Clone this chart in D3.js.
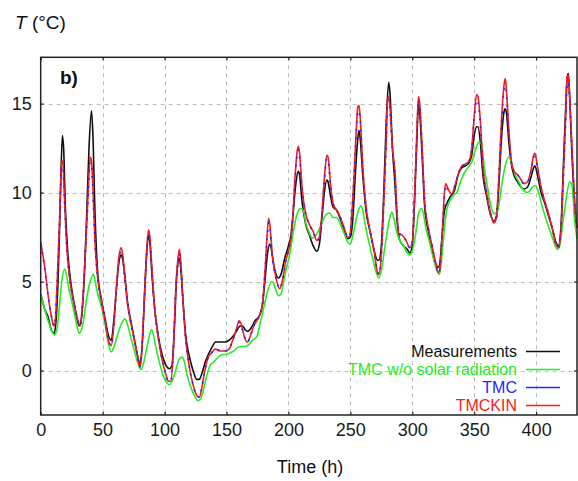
<!DOCTYPE html>
<html><head><meta charset="utf-8">
<script src="https://cdn.jsdelivr.net/npm/d3@7"></script>
<style>
html,body{margin:0;padding:0;background:#fff;}
svg text{font-family:"Liberation Sans",Arial,sans-serif;}
</style></head>
<body>
<svg id="chart" width="578" height="481"></svg>
<script>
// ---- data (time in h, temperature in °C) ----
const xTicks = [0, 50, 100, 150, 200, 250, 300, 350, 400];
const yTicks = [0, 5, 10, 15];
const seriesNames = ["Measurements", "TMC w/o solar radiation", "TMC", "TMCKIN"];

const measurements = [[0,4.3],[3,3.5],[6,3.0],[9,2.2],[11,2.1],[12,2.5],[14,5.0],[16,10.0],[17.5,13.2],[18.5,12.5],[20,9.0],[22,6.5],[25,4.6],[28,3.4],[31,2.5],[33,3.0],[35,5.0],[37,8.5],[39,12.5],[41,14.6],[42,13.5],[44,8.5],[46,5.5],[49,4.0],[52,2.9],[55,1.9],[57,1.7],[59,2.8],[61,4.5],[63,6.0],[65,6.5],[66,6.3],[68,5.3],[70,3.9],[73,2.7],[76,1.6],[79,0.6],[80,0.35],[82,1.5],[84,4.5],[86,7.0],[87,7.6],[88,7.3],[90,5.2],[92,3.5],[95,1.9],[98,0.9],[101,0.3],[104,0.1],[106,0.3],[108,2.5],[110,5.5],[112,6.3],[113,5.8],[115,3.8],[117,2.0],[120,0.8],[123,0.0],[126,-0.5],[128,-0.5],[130,-0.2],[133,0.5],[136,1.0],[139,1.4],[141,1.6],[145,1.6],[149,1.6],[152,1.7],[155,1.9],[158,2.2],[161,2.5],[163,2.5],[165,2.3],[167,2.2],[170,2.4],[173,2.8],[176,3.0],[179,3.7],[181,5.0],[183,6.5],[185,7.1],[186,6.9],[188,6.0],[190,5.4],[192,5.2],[194,5.4],[197,6.3],[200,7.0],[202,7.6],[204,9.0],[206,10.5],[208,11.2],[209,11.0],[211,9.5],[214,8.2],[217,7.6],[220,7.0],[223,6.7],[225,7.1],[227,8.5],[229,10.0],[231,10.7],[232,10.6],[234,9.8],[236,9.2],[239,9.0],[242,8.5],[245,7.9],[248,7.4],[250,7.5],[252,8.5],[254,11.0],[256,13.0],[257,13.5],[258,13.0],[260,11.0],[263,8.8],[266,7.8],[269,6.8],[272,6.2],[273,6.2],[275,7.0],[277,10.0],[279,14.0],[281,16.2],[282,15.6],[284,12.5],[286,10.5],[288,8.2],[290,7.3],[293,7.0],[296,6.8],[298,6.6],[300,7.0],[302,9.8],[304,13.5],[305,15.0],[306,14.5],[308,12.0],[310,9.2],[313,7.8],[316,6.8],[319,6.0],[321,5.8],[322,5.9],[324,7.5],[326,9.0],[328,9.4],[331,9.8],[334,10.1],[337,11.0],[340,11.4],[343,11.5],[346,11.7],[348,12.1],[350,13.2],[352,13.7],[353,13.7],[355,12.8],[357,11.0],[360,9.8],[363,8.8],[366,8.4],[368,8.7],[370,10.5],[372,13.0],[374,14.5],[375,14.7],[376,14.5],[378,12.8],[380,11.6],[382,11.0],[385,10.6],[388,10.3],[390,10.2],[393,10.3],[396,10.9],[398,11.4],[399,11.5],[401,11.0],[404,10.0],[407,9.4],[410,8.7],[413,8.0],[416,7.2],[418,7.0],[420,8.0],[422,11.5],[424,15.0],[425,16.4],[426,16.7],[427,15.5],[429,12.0],[431,9.5],[433,8.0]];

const tmcNoSolar = [[0,4.3],[3,3.5],[6,2.8],[9,2.2],[11,2.0],[13,2.3],[15,3.5],[17,5.0],[19.5,5.7],[21,5.3],[23,4.5],[26,3.6],[29,2.6],[31,2.1],[33,2.3],[35,3.0],[37,4.0],[40,5.0],[42.5,5.4],[44,5.0],[46,4.3],[49,3.6],[52,2.6],[55,1.4],[57,1.05],[59,1.3],[62,2.0],[65,2.6],[68,2.9],[70,2.6],[73,1.8],[76,1.0],[79,0.3],[81,0.05],[83,0.4],[86,1.4],[89.5,2.3],[91,2.0],[93,1.3],[96,0.4],[99,-0.3],[102,-0.7],[104,-0.8],[106,-0.6],[109,0.0],[111.5,0.6],[114,0.75],[116,0.5],[118,-0.2],[121,-0.9],[124,-1.4],[127,-1.7],[129,-1.6],[131,-1.2],[134,-0.3],[137,0.3],[140,0.5],[144,0.8],[147,0.9],[150,0.9],[153,1.0],[156,1.1],[159,1.3],[162,1.35],[165,1.35],[168,1.45],[171,1.7],[174.5,1.9],[177,2.6],[180,3.5],[183,4.4],[186.5,5.0],[188,4.9],[190,4.5],[192,4.2],[194,4.3],[197,5.3],[200,6.2],[202,6.9],[204,7.8],[207,8.8],[210,9.1],[212,9.0],[214,8.3],[217,7.7],[219,7.45],[221,7.5],[224,7.8],[227,8.3],[231,8.8],[233.5,8.85],[236,8.6],[239,8.6],[242,8.2],[245,7.7],[248,7.2],[250,7.1],[252,7.6],[255,8.6],[258.5,9.25],[260,9.0],[262,8.2],[265,7.2],[268,6.3],[271,5.5],[273,5.2],[275,5.6],[278,7.0],[281,8.3],[283.5,8.9],[285,8.6],[287,7.9],[290,7.3],[293,7.0],[296,6.6],[298,6.5],[300,6.7],[303,7.8],[305,8.8],[307.5,9.1],[309,8.8],[311,8.0],[314,7.2],[317,6.3],[320,5.6],[322,5.4],[324,6.5],[326,8.0],[328,9.1],[331,9.6],[334,9.9],[336,10.0],[339,10.6],[342,11.1],[345,11.4],[348,11.7],[351,12.4],[354,12.85],[356,12.7],[358,11.5],[361,10.2],[363,9.4],[366,8.8],[369,9.0],[372,10.3],[375,11.5],[378,12.0],[380,11.7],[383,11.0],[386,10.6],[389,10.2],[392.7,10.0],[395,10.1],[397,10.3],[399.5,10.4],[402,10.0],[405,9.2],[408,8.5],[411,7.9],[414,7.3],[417,6.8],[419,7.0],[421,8.0],[424,9.5],[427,10.6],[429,10.4],[431,8.5],[433,7.4]];

const tmc = [[0,7.1],[2,6.3],[4,5.3],[6,4.2],[8,3.3],[10,2.6],[11,2.5],[12,3.0],[13,4.5],[15,7.8],[17,11.5],[18,11.3],[19,9.8],[21,7.0],[23,5.4],[25,4.4],[28,3.4],[31,2.6],[32,2.5],[34,4.0],[36,6.4],[38,9.3],[40,11.7],[41,11.5],[42,10.3],[44,7.0],[46,5.2],[49,3.9],[52,2.8],[55,1.6],[57,1.4],[59,2.5],[61,4.4],[63,6.1],[65,6.7],[66,6.4],[68,5.1],[70,3.8],[73,2.6],[76,1.6],[79,0.5],[80,0.2],[81,0.5],[83,3.0],[85,5.9],[87,7.7],[88,7.4],[90,5.4],[92,3.5],[95,1.8],[98,0.6],[101,-0.2],[103,-0.6],[105,-0.6],[107,1.0],[109,4.4],[111,6.2],[112,6.6],[113,6.0],[115,3.8],[117,1.8],[120,0.2],[123,-0.8],[126,-1.4],[128,-1.5],[130,-1.0],[132,-0.2],[135,0.7],[138,1.0],[141,1.2],[145,1.1],[149,1.1],[152,1.2],[155,1.7],[158,2.3],[160,2.7],[162,2.5],[164,2.0],[167,1.6],[169,1.9],[172,2.5],[176,3.0],[179,3.7],[181,5.4],[183,7.6],[184,8.3],[185,8.0],[187,6.4],[190,5.2],[193,4.6],[195,5.0],[198,6.2],[201,7.0],[203,8.0],[205,10.3],[207,12.1],[208,12.4],[209,12.0],[211,10.2],[214,8.8],[217,8.2],[220,7.8],[223,7.3],[225,7.5],[227,8.7],[229,10.6],[231,11.9],[232,11.8],[234,10.4],[236,9.4],[239,9.0],[242,8.6],[245,8.0],[248,7.5],[249,7.5],[251,8.6],[253,10.9],[255,13.6],[256,14.5],[257,14.6],[258,14.0],[260,11.4],[263,9.0],[266,7.8],[269,6.8],[272,5.5],[273,5.4],[275,6.5],[277,9.4],[279,12.8],[280,15.0],[281,15.2],[282,14.6],[284,12.4],[286,11.1],[288,8.5],[289,7.7],[292,7.6],[295,7.3],[298,6.9],[300,7.2],[302,9.9],[304,13.8],[305,15.2],[306,14.8],[308,12.4],[310,9.5],[313,8.0],[316,7.0],[319,6.0],[321,5.5],[322,5.6],[324,7.4],[326,9.9],[327,10.4],[329,10.1],[332,9.9],[334,10.3],[337,11.0],[340,11.5],[343,11.6],[346,11.8],[348,12.4],[350,14.1],[352,15.2],[353,15.1],[355,13.8],[357,11.4],[360,10.0],[363,8.9],[366,8.3],[368,8.6],[370,10.9],[372,13.8],[374,15.7],[375,16.0],[376,15.5],[378,13.3],[380,11.7],[382,11.2],[385,11.0],[388,10.7],[390,10.5],[393,10.6],[396,11.2],[398,12.0],[399,12.0],[401,11.4],[404,10.3],[407,9.5],[410,8.8],[413,8.0],[416,7.1],[418,6.9],[420,7.8],[422,10.8],[424,14.2],[425,16.0],[426,16.2],[427,15.3],[428,13.8],[430,10.9],[432,8.5],[433,8.0]];

const tmckin = [[0,7.2],[2,6.4],[4,5.4],[6,4.2],[8,3.3],[10,2.6],[11,2.5],[12,3.0],[13,4.5],[15,8.0],[17,11.8],[18,11.6],[19,10.0],[21,7.0],[23,5.4],[25,4.4],[28,3.4],[31,2.6],[32,2.5],[34,4.0],[36,6.5],[38,9.5],[40,12.0],[41,11.8],[42,10.5],[44,7.0],[46,5.2],[49,3.9],[52,2.8],[55,1.6],[57,1.4],[59,2.5],[61,4.5],[63,6.3],[65,6.9],[66,6.6],[68,5.2],[70,3.8],[73,2.6],[76,1.6],[79,0.5],[80,0.2],[81,0.5],[83,3.0],[85,6.0],[87,7.9],[88,7.6],[90,5.5],[92,3.5],[95,1.8],[98,0.6],[101,-0.2],[103,-0.6],[105,-0.6],[107,1.0],[109,4.5],[111,6.4],[112,6.8],[113,6.2],[115,3.8],[117,1.8],[120,0.2],[123,-0.8],[126,-1.4],[128,-1.5],[130,-1.0],[132,-0.2],[135,0.7],[138,1.0],[141,1.2],[145,1.1],[149,1.1],[152,1.2],[155,1.7],[158,2.3],[160,2.8],[162,2.6],[164,2.0],[167,1.6],[169,1.9],[172,2.5],[176,3.0],[179,3.7],[181,5.5],[183,7.8],[184,8.55],[185,8.2],[187,6.5],[190,5.2],[193,4.6],[195,5.0],[198,6.2],[201,7.0],[203,8.0],[205,10.5],[207,12.3],[208,12.6],[209,12.2],[211,10.3],[214,8.8],[217,8.2],[220,7.8],[223,7.3],[225,7.5],[227,8.8],[229,10.8],[231,12.1],[232,12.0],[234,10.5],[236,9.4],[239,9.0],[242,8.6],[245,8.0],[248,7.5],[249,7.5],[251,8.6],[253,11.0],[255,13.8],[256,14.8],[257,14.9],[258,14.2],[260,11.5],[263,9.0],[266,7.8],[269,6.8],[272,5.5],[273,5.4],[275,6.5],[277,9.5],[279,13.0],[280,15.2],[281,15.4],[282,14.8],[284,12.5],[286,11.2],[288,8.5],[289,7.7],[292,7.6],[295,7.3],[298,6.9],[300,7.2],[302,10.0],[304,14.0],[305,15.4],[306,15.0],[308,12.5],[310,9.5],[313,8.0],[316,7.0],[319,6.0],[321,5.5],[322,5.6],[324,7.5],[326,10.0],[327,10.5],[329,10.2],[332,9.9],[334,10.3],[337,11.0],[340,11.5],[343,11.6],[346,11.8],[348,12.5],[350,14.3],[352,15.5],[353,15.4],[355,14.0],[357,11.5],[360,10.0],[363,8.9],[366,8.3],[368,8.6],[370,11.0],[372,14.0],[374,16.0],[375,16.4],[376,15.8],[378,13.5],[380,11.8],[382,11.2],[385,11.0],[388,10.7],[390,10.5],[393,10.6],[396,11.3],[398,12.1],[399,12.2],[401,11.5],[404,10.3],[407,9.5],[410,8.8],[413,8.0],[416,7.1],[418,6.9],[420,7.8],[422,11.0],[424,14.5],[425,16.5],[426,16.6],[427,15.5],[428,14.0],[430,11.0],[432,8.5],[433,8.0]];

// ---- layout ----
const svg = d3.select("#chart");
const L = 40.7, R = 577, T = 57.3, B = 415;
const x = d3.scaleLinear().domain([0, 433]).range([L, R]);
const y = d3.scaleLinear().domain([-2.5, 17.6]).range([B, T]);

// grid
const grid = svg.append("g").attr("stroke", "#bdbdbd").attr("stroke-width", 1).attr("stroke-dasharray", "4,4");
grid.selectAll("line.gx").data(xTicks.filter(d => d > 0)).join("line")
  .attr("x1", d => Math.round(x(d)) + 0.5).attr("x2", d => Math.round(x(d)) + 0.5)
  .attr("y1", T).attr("y2", B);
grid.selectAll("line.gy").data(yTicks).join("line")
  .attr("y1", d => Math.round(y(d)) + 0.5).attr("y2", d => Math.round(y(d)) + 0.5)
  .attr("x1", L).attr("x2", R);

// axes
const fs = "18px";
const ax = svg.append("g").attr("transform", `translate(0,${B})`)
  .call(d3.axisBottom(x).tickValues(xTicks).tickSize(-3).tickPadding(8).tickFormat(d3.format("d")));
const axTop = svg.append("g").attr("transform", `translate(0,${T})`)
  .call(d3.axisTop(x).tickValues(xTicks).tickSize(-3).tickFormat(""));
const ay = svg.append("g").attr("transform", `translate(${L},0)`)
  .call(d3.axisLeft(y).tickValues(yTicks).tickSize(-3).tickPadding(9).tickFormat(d3.format("d")));
const ayR = svg.append("g").attr("transform", `translate(${R},0)`)
  .call(d3.axisRight(y).tickValues(yTicks).tickSize(-3).tickFormat(""));
[ax, axTop, ay, ayR].forEach(g => {
  g.select(".domain").remove();
  g.selectAll(".tick line").attr("stroke", "#222").attr("stroke-width", 1.2);
  g.selectAll(".tick text").attr("font-size", fs).attr("fill", "#1a1a1a")
   .style("font-family", '"Liberation Sans", Arial, sans-serif');
});

// series lines
const line = d3.line().x(d => x(d[0])).y(d => y(d[1])).curve(d3.curveMonotoneX);
const plot = svg.append("g");
const styles = [
  {data: measurements, color: "#101010", dash: null},
  {data: tmcNoSolar, color: "#22ee22", dash: null},
  {data: tmckin, color: "#ff1a1a", dash: null},
  {data: tmc, color: "#2525ff", dash: "2,6"}
];
styles.forEach(s => {
  plot.append("path").attr("d", line(s.data)).attr("fill", "none")
    .attr("stroke", s.color).attr("stroke-width", 1.6)
    .attr("stroke-linejoin", "round")
    .attr("stroke-dasharray", s.dash);
});

// frame
svg.append("rect").attr("x", L).attr("y", T).attr("width", R - L).attr("height", B - T)
  .attr("fill", "none").attr("stroke", "#222").attr("stroke-width", 1.5);

// labels
svg.append("text").attr("x", 15).attr("y", 29).attr("font-size", "19px").attr("fill", "#111")
  .html('<tspan font-style="italic">T</tspan> (°C)');
svg.append("text").attr("x", 310).attr("y", 473).attr("text-anchor", "middle")
  .attr("font-size", fs).attr("fill", "#111").text("Time (h)");
svg.append("text").attr("x", 60).attr("y", 84).attr("font-size", "19px").attr("font-weight", "bold")
  .attr("fill", "#111").text("b)");

// legend
const legColors = ["#101010", "#22ee22", "#2525ff", "#ff1a1a"];
const leg = svg.append("g");
seriesNames.forEach((n, i) => {
  const cy = 351 + i * 18;
  leg.append("text").attr("x", 517).attr("y", cy + 5.5).attr("text-anchor", "end")
    .attr("font-size", "16px").attr("fill", legColors[i]).text(n);
  leg.append("line").attr("x1", 526).attr("x2", 560).attr("y1", cy + 0.5).attr("y2", cy + 0.5)
    .attr("stroke", legColors[i]).attr("stroke-width", 1.4);
});
</script>
</body></html>
